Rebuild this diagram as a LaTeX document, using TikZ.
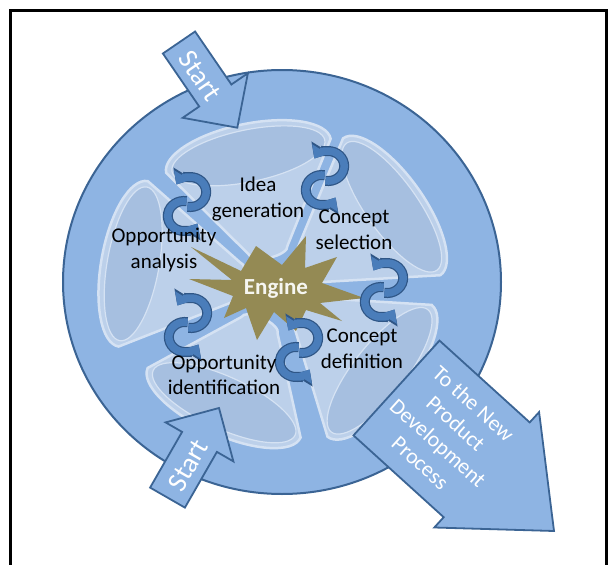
\documentclass[tikz,border=0pt]{standalone}
\usepackage{fontspec}
\setmainfont{Carlito}
\usetikzlibrary{arrows.meta}

\definecolor{ringblue}{HTML}{8EB4E3}
\definecolor{edgeblue}{HTML}{3B6494}
\definecolor{cupblue}{HTML}{BCD0EA}
\definecolor{mouthblue}{HTML}{A6BFE0}
\definecolor{rimblue}{HTML}{D5E2F3}
\definecolor{swirlblue}{HTML}{4A7DBA}
\definecolor{swirledge}{HTML}{2F5686}
\definecolor{enginecol}{HTML}{948A54}

\begin{document}
\begin{tikzpicture}[x=1pt,y=-1pt,
   ring/.style={fill=ringblue,draw=edgeblue,line width=2pt},
   cup/.style={fill=cupblue,draw=rimblue,line width=2.5pt},
   mouth/.style={fill=mouthblue,draw=rimblue,line width=1.2pt},
   blockarrow/.style={fill=ringblue,draw=edgeblue,line width=1.8pt,line join=miter},
   swirlback/.style={draw=swirledge,line width=10pt,-{Triangle[width=22pt,length=13pt]}},
   swirlfront/.style={draw=swirlblue,line width=7.5pt,-{Triangle[width=18pt,length=11pt]}},
   swirl/.pic={
     \draw[swirlback] (0.4,2.8) arc[start angle=100,end angle=-150,x radius=16,y radius=15];
     \draw[swirlback] (-0.4,-2.8) arc[start angle=-80,end angle=-330,x radius=16,y radius=15];
     \draw[swirlfront] (0.4,2.8) arc[start angle=100,end angle=-150,x radius=16,y radius=15];
     \draw[swirlfront] (-0.4,-2.8) arc[start angle=-80,end angle=-330,x radius=16,y radius=15];
   },
   stage/.style={align=center,font=\fontsize{21}{25.5}\selectfont,inner sep=0pt},
   starttext/.style={text=white,font=\fontsize{28}{30}\selectfont,inner sep=0pt},
   npdtext/.style={align=center,text=white,font=\fontsize{22}{26.5}\selectfont,inner sep=0pt},
   enginetext/.style={text=white!92!enginecol,font=\bfseries\fontsize{23}{26}\selectfont,inner sep=0pt}]
\useasboundingbox (0,0) rectangle (611,565);

% frame
\draw[line width=3pt] (10.5,565) -- (10.5,10.5) -- (606,10.5) -- (606,565);

% wheel
\path[ring] (282,282) ellipse [x radius=219,y radius=212];

% funnels
\foreach \rot/\dist in {101.7/136,35.4/142,-38.3/132,-114.5/125,-190/145}{
  \begin{scope}[shift={(276,289)},rotate=\rot]
    \path[cup] (\dist,-84) -- (40,-20)
      arc[start angle=-90,end angle=-270,x radius=8,y radius=20]
      -- (\dist,84) arc[start angle=90,end angle=-90,x radius=32,y radius=84]
      -- cycle;
    \path[mouth] (\dist,0) ellipse [x radius=26,y radius=78];
  \end{scope}
}

% engine
\fill[enginecol] (191,247) -- (241,271) -- (256,246) -- (282,265) -- (306,236)
  -- (305,268) -- (337,257) -- (322,283) -- (364,298) -- (320,303) -- (342,321)
  -- (306,310) -- (296,331) -- (274,312) -- (257,340) -- (246,308) -- (224,318)
  -- (233,296) -- (189,279) -- (232,280) -- cycle;
\node[enginetext] (engine) at (276,288) {Engine};

% start arrows
\path[blockarrow] (162.9,53.5) -- (195.1,31.5) -- (231.4,84.5) -- (247.9,73.2)
  -- (237.3,127.7) -- (182.7,117.8) -- (199.2,106.5) -- cycle;
\node[starttext,rotate=-55.6] (start1) at (200,76) {Start};
\path[blockarrow] (150.1,487.6) -- (182.1,431.9) -- (165.6,422.4) -- (219,408)
  -- (233.4,461.4) -- (216.9,451.9) -- (184.9,507.6) -- cycle;
\node[starttext,rotate=60] (start2) at (188,465) {Start};

% exit arrow
\path[blockarrow] (439.5,340.6) -- (529.7,422.4) -- (539.1,412.1) -- (554,531)
  -- (434.3,527.5) -- (443.7,517.2) -- (353.5,435.4) -- cycle;
\node[npdtext,rotate=-42] (npd) at (447,433) {To the New\\Product\\Development\\Process};

% iterations between stages
\foreach \p in {(187,204),(325,178),(384,290),(299,350),(188,325)}
  \pic at \p {swirl};

% stages
\node[stage] (idea) at (258,199) {Idea\\generation};
\node[stage] (select) at (354,230) {Concept\\selection};
\node[stage] (define) at (362,349) {Concept\\definition};
\node[stage] (identify) at (224,375) {Opportunity\\identification};
\node[stage] (analyse) at (164,250) {Opportunity\\analysis};

\end{tikzpicture}
\end{document}
